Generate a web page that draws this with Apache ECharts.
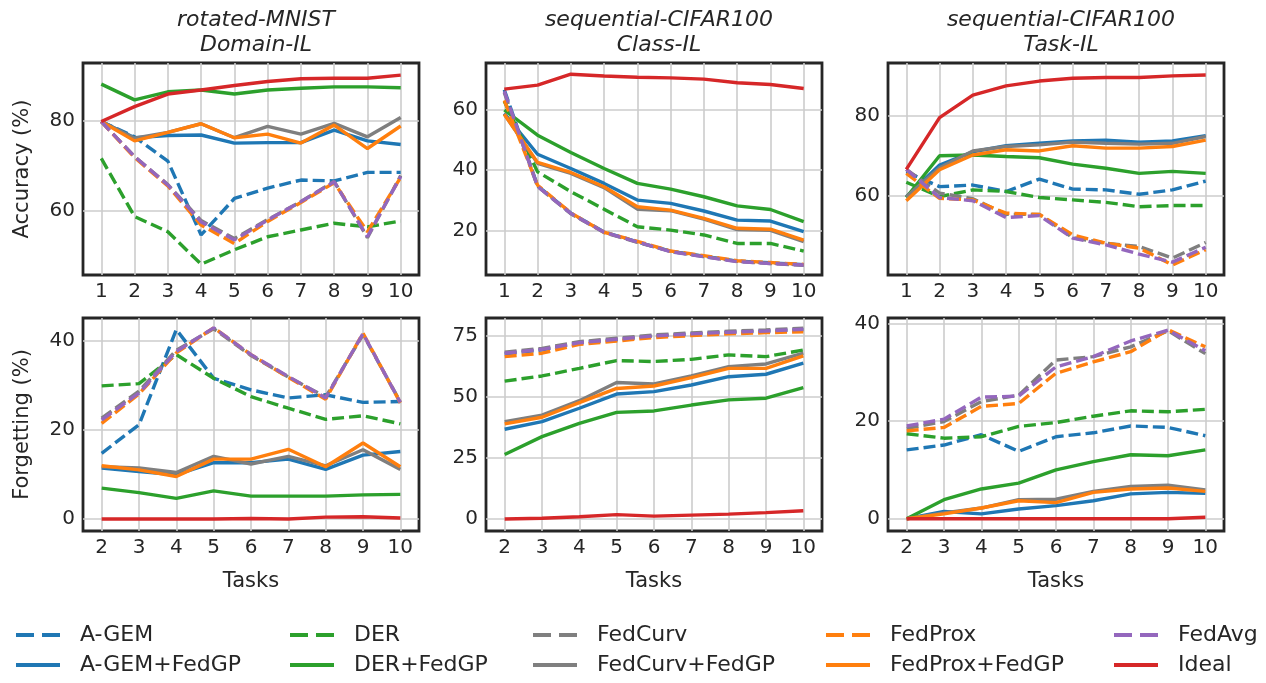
<!DOCTYPE html>
<html>
<head>
<meta charset="utf-8">
<script src="https://cdn.jsdelivr.net/npm/echarts@6/dist/echarts.min.js"></script>
<style>
  html, body { margin: 0; padding: 0; background: #fff; }
  #chart { width: 1266px; height: 683px; }
</style>
</head>
<body>
<div id="chart"></div>
<script>
// methods, in plotting / legend order
const methods = ['A-GEM', 'A-GEM+FedGP', 'DER', 'DER+FedGP', 'FedCurv', 'FedCurv+FedGP', 'FedProx', 'FedProx+FedGP', 'FedAvg', 'Ideal'];
const colors = ['#1f77b4', '#1f77b4', '#2ca02c', '#2ca02c', '#7f7f7f', '#7f7f7f', '#ff7f0e', '#ff7f0e', '#9467bd', '#d62728'];
const dashed = [true, false, true, false, true, false, true, false, true, false];

const accTasks = [1, 2, 3, 4, 5, 6, 7, 8, 9, 10];
const forgTasks = [2, 3, 4, 5, 6, 7, 8, 9, 10];

// accuracy (%) - rows follow `methods`
const mnistAcc = [
  [79.8, 76.4, 71.0, 54.6, 62.7, 65.0, 66.8, 66.6, 68.5, 68.5],
  [79.8, 76.2, 76.7, 76.8, 75.0, 75.1, 75.1, 77.9, 75.5, 74.7],
  [71.6, 58.7, 55.3, 48.1, 51.3, 54.2, 55.7, 57.2, 56.4, 57.7],
  [88.1, 84.6, 86.4, 86.8, 85.9, 86.8, 87.2, 87.5, 87.5, 87.3],
  [79.8, 72.0, 65.8, 57.8, 53.8, 58.0, 62.0, 66.5, 54.0, 67.8],
  [79.8, 76.1, 77.4, 79.3, 76.2, 78.7, 77.0, 79.4, 76.4, 80.7],
  [79.8, 71.8, 65.5, 56.8, 52.7, 57.6, 61.8, 66.2, 55.3, 67.4],
  [79.8, 75.5, 77.4, 79.3, 76.2, 77.0, 75.0, 79.0, 73.8, 78.8],
  [79.8, 72.0, 65.7, 57.5, 53.5, 57.9, 62.0, 66.4, 54.2, 67.6],
  [79.8, 83.1, 85.9, 86.8, 87.8, 88.7, 89.3, 89.4, 89.4, 90.1]
];
const cifarClassAcc = [
  [66.5, 34.8, 25.8, 19.6, 16.3, 13.2, 11.6, 10.0, 9.4, 8.8],
  [58.7, 45.2, 40.5, 35.6, 30.1, 29.0, 26.5, 23.5, 23.2, 19.7],
  [62.7, 39.4, 32.9, 27.1, 21.3, 20.2, 18.6, 15.8, 15.8, 13.3],
  [59.8, 51.5, 45.8, 40.5, 35.6, 33.7, 31.2, 28.2, 27.0, 23.0],
  [65.5, 34.6, 25.6, 19.4, 16.2, 13.2, 11.5, 9.9, 9.2, 8.6],
  [58.5, 42.2, 38.9, 34.2, 27.1, 26.6, 23.8, 20.4, 20.1, 16.4],
  [63.0, 35.0, 25.9, 19.5, 16.5, 13.3, 11.8, 10.1, 9.5, 8.9],
  [58.4, 42.5, 39.2, 34.5, 27.9, 26.8, 24.1, 20.8, 20.5, 16.9],
  [66.0, 34.6, 25.7, 19.5, 16.3, 13.1, 11.4, 9.8, 9.2, 8.7],
  [66.7, 68.0, 71.6, 71.0, 70.6, 70.4, 70.0, 68.8, 68.2, 66.9]
];
const cifarTaskAcc = [
  [66.0, 62.3, 62.7, 61.1, 64.2, 61.7, 61.5, 60.4, 61.5, 63.7],
  [59.8, 67.7, 71.0, 72.5, 73.1, 73.7, 73.9, 73.4, 73.7, 75.0],
  [63.4, 59.8, 61.5, 61.1, 59.6, 59.0, 58.4, 57.3, 57.6, 57.6],
  [59.6, 70.0, 70.2, 69.8, 69.5, 67.9, 66.9, 65.6, 66.1, 65.6],
  [66.6, 60.7, 59.3, 55.4, 55.4, 49.6, 48.2, 47.4, 44.5, 48.4],
  [59.8, 67.0, 71.2, 72.3, 72.7, 73.4, 73.1, 72.9, 73.1, 74.8],
  [65.6, 59.4, 59.0, 55.7, 55.4, 50.3, 48.2, 47.0, 42.8, 46.6],
  [58.8, 66.5, 70.2, 71.5, 71.2, 72.5, 71.9, 71.9, 72.3, 73.9],
  [66.6, 59.6, 58.8, 54.6, 55.1, 49.5, 47.8, 45.5, 43.5, 47.2],
  [66.6, 79.5, 85.1, 87.4, 88.6, 89.3, 89.5, 89.5, 89.9, 90.1]
];

// forgetting (%)
const mnistForg = [
  [14.7, 21.1, 42.4, 31.5, 28.9, 27.1, 27.8, 26.1, 26.3],
  [11.4, 10.6, 9.9, 12.6, 12.6, 13.4, 11.1, 14.3, 15.1],
  [29.8, 30.3, 36.8, 31.5, 27.4, 24.8, 22.3, 23.1, 21.3],
  [6.9, 5.9, 4.6, 6.3, 5.1, 5.1, 5.1, 5.4, 5.5],
  [22.6, 28.6, 37.8, 42.6, 36.6, 31.8, 27.3, 41.3, 26.2],
  [11.7, 11.4, 10.4, 14.0, 12.3, 14.0, 11.9, 15.5, 11.1],
  [21.4, 28.0, 37.2, 42.8, 36.8, 31.7, 26.8, 41.6, 26.0],
  [11.9, 11.0, 9.5, 13.4, 13.4, 15.6, 11.7, 17.0, 11.7],
  [22.2, 28.2, 37.5, 42.8, 36.8, 31.9, 27.1, 41.5, 26.1],
  [0, 0, 0, 0, 0.1, 0, 0.4, 0.5, 0.2]
];
const cifarClassForg = [
  [67.5, 69.2, 72.0, 73.3, 74.8, 75.6, 76.3, 76.8, 77.4],
  [36.7, 39.8, 45.3, 51.1, 52.1, 54.8, 58.2, 59.2, 63.7],
  [56.4, 58.5, 61.6, 64.8, 64.4, 65.3, 67.1, 66.4, 69.1],
  [26.4, 33.7, 39.1, 43.6, 44.2, 46.6, 48.7, 49.4, 53.7],
  [68.2, 69.8, 72.5, 73.9, 75.3, 76.1, 76.8, 77.3, 78.0],
  [39.8, 42.5, 48.4, 55.8, 55.2, 58.5, 62.3, 63.4, 67.8],
  [66.4, 67.8, 71.4, 72.8, 74.2, 75.0, 75.7, 76.2, 76.6],
  [38.9, 41.6, 47.6, 53.4, 54.4, 57.8, 61.6, 61.6, 66.7],
  [67.8, 69.4, 72.1, 73.5, 74.9, 75.7, 76.4, 76.9, 77.6],
  [0, 0.3, 0.9, 1.8, 1.2, 1.6, 2.0, 2.6, 3.4]
];
const cifarTaskForg = [
  [14.1, 15.1, 17.2, 13.8, 16.8, 17.6, 19.0, 18.7, 17.0],
  [0, 1.5, 1.0, 2.0, 2.7, 3.7, 5.1, 5.4, 5.2],
  [17.4, 16.5, 16.8, 18.9, 19.7, 21.0, 22.1, 21.9, 22.4],
  [0, 3.9, 6.1, 7.3, 10.0, 11.7, 13.1, 12.9, 14.1],
  [18.5, 19.9, 24.0, 25.3, 32.5, 33.2, 35.2, 38.5, 33.8],
  [0, 1.2, 2.2, 3.9, 4.0, 5.6, 6.6, 6.9, 5.9],
  [18.0, 18.7, 23.0, 23.6, 29.8, 32.1, 34.2, 38.7, 35.2],
  [0, 1.0, 2.2, 3.7, 3.3, 5.4, 6.1, 6.3, 5.6],
  [19.0, 20.4, 24.9, 25.1, 31.1, 33.2, 36.4, 38.6, 34.4],
  [0, 0, 0, 0, 0, 0, 0, 0, 0.3]
];

const titles = ['rotated-MNIST\nDomain-IL', 'sequential-CIFAR100\nClass-IL', 'sequential-CIFAR100\nTask-IL'];
const accTicks = [[60, 80], [20, 40, 60], [60, 80]];
const forgTicks = [[0, 20, 40], [0, 25, 50, 75], [0, 20, 40]];

const FONT = 'DejaVu Sans';
const INK = '#262626';

// panel layout: [data, tasks, yTicks, yMin, yMax, xMin, xMax]
const panels = [
  [mnistAcc, accTasks, accTicks[0], 45.7, 92.8, 0.45, 10.55],
  [cifarClassAcc, accTasks, accTicks[1], 5.4, 75.3, 0.45, 10.55],
  [cifarTaskAcc, accTasks, accTicks[2], 40.3, 93.1, 0.45, 10.55],
  [mnistForg, forgTasks, forgTicks[0], -2.7, 45.0, 1.5, 10.5],
  [cifarClassForg, forgTasks, forgTicks[1], -4.9, 82.2, 1.5, 10.5],
  [cifarTaskForg, forgTasks, forgTicks[2], -2.5, 41.1, 1.5, 10.5]
];
const lefts = [83, 486, 888];
const tops = [63, 318];

const grid = [], xAxis = [], yAxis = [], series = [];
panels.forEach((p, i) => {
  const col = i % 3, row = Math.floor(i / 3);
  const [data, tasks, ticks, ymin, ymax, xmin, xmax] = p;
  grid.push({
    left: lefts[col], top: tops[row], width: 336, height: row ? 213 : 212,
    show: true, borderColor: INK, borderWidth: 2.8, backgroundColor: 'transparent'
  });
  xAxis.push({
    type: 'value', gridIndex: i, min: xmin, max: xmax,
    axisLine: { show: false }, axisTick: { show: false, customValues: tasks },
    axisLabel: { customValues: tasks, color: INK, fontSize: 20, fontFamily: FONT, margin: 7 },
    splitLine: { show: true, lineStyle: { color: '#cccccc', width: 1.6 } },
    name: row ? 'Tasks' : '', nameLocation: 'middle', nameGap: 40,
    nameTextStyle: { color: INK, fontSize: 21, fontFamily: FONT }
  });
  yAxis.push({
    type: 'value', gridIndex: i, min: ymin, max: ymax,
    axisLine: { show: false }, axisTick: { show: false, customValues: ticks },
    axisLabel: { customValues: ticks, color: INK, fontSize: 20, fontFamily: FONT, margin: 8 },
    splitLine: { show: true, lineStyle: { color: '#cccccc', width: 1.6 } },
    name: col === 0 ? (row ? 'Forgetting (%)' : 'Accuracy (%)') : '',
    nameLocation: 'middle', nameGap: 50,
    nameTextStyle: { color: INK, fontSize: 21, fontFamily: FONT }
  });
  methods.forEach((m, k) => {
    series.push({
      type: 'line', name: m, xAxisIndex: i, yAxisIndex: i,
      data: tasks.map((t, j) => [t, data[k][j]]),
      symbol: 'none', silent: true,
      lineStyle: { color: colors[k], width: 3.4, type: dashed[k] ? [12, 5] : 'solid' },
      itemStyle: { color: colors[k] }
    });
  });
});

// legend: 5 columns of 2 items (dashed baseline on top, FedGP variant below)
const legendCols = [[0, 1], [2, 3], [4, 5], [6, 7], [8, 9]];
const legendLeft = [14, 288, 531, 824, 1112];
const legend = legendCols.map((c, i) => ({
  orient: 'vertical', left: legendLeft[i], top: 624, padding: 0,
  itemWidth: 44, itemHeight: 14, itemGap: 8,
  data: c.map(k => ({
    name: methods[k],
    lineStyle: { type: dashed[k] ? [18, 8] : 'solid' }
  })),
  itemStyle: { opacity: 0 },
  lineStyle: { width: 4 },
  textStyle: { color: INK, fontSize: 22, fontFamily: FONT, padding: [0, 0, 0, 15] }
}));

const title = titles.map((t, i) => ({
  text: t, left: lefts[i] + 168, top: 3, textAlign: 'center',
  textStyle: { fontStyle: 'italic', fontWeight: 'normal', fontSize: 22, lineHeight: 25, color: INK, fontFamily: FONT }
}));

const chart = echarts.init(document.getElementById('chart'));
chart.setOption({
  animation: false,
  backgroundColor: '#fff',
  title, legend, grid, xAxis, yAxis, series
});
window.addEventListener('resize', function () { chart.resize(); });
</script>
</body>
</html>
